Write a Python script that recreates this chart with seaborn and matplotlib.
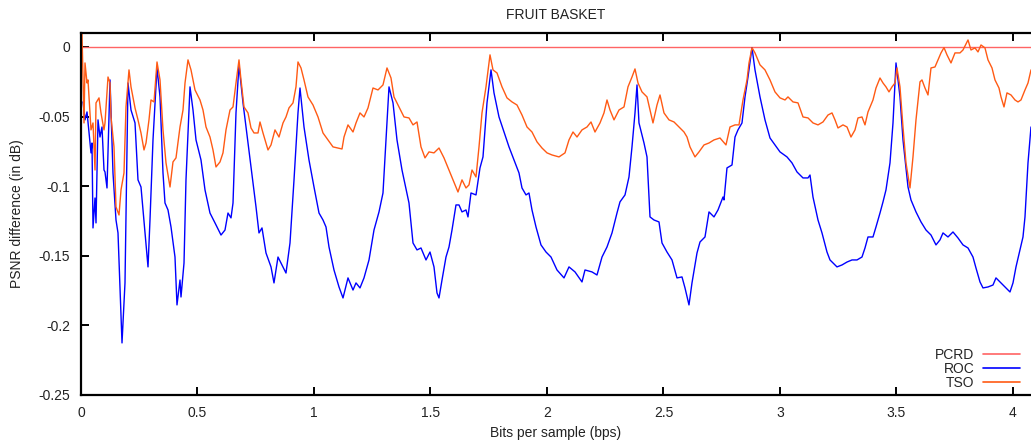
import numpy as np
import pandas as pd
import matplotlib
matplotlib.use("Agg")
import matplotlib.pyplot as plt
import seaborn as sns

# PSNR difference relative to PCRD, per bit rate (bits per sample)
pcrd_bps = [0.008, 4.0773]
pcrd_psnr = [0.0, 0.0]

roc_bps = [
    0.0086, 0.0172, 0.0258, 0.0429, 0.0472, 0.0515, 0.0601, 0.0644, 0.0730, 0.0815,
    0.0901, 0.0987, 0.1030, 0.1116, 0.1245, 0.1373, 0.1502, 0.1588, 0.1760, 0.1888,
    0.2017, 0.2146, 0.2318, 0.2446, 0.2575, 0.2747, 0.2876, 0.2961, 0.3090, 0.3262,
    0.3391, 0.3519, 0.3605, 0.3734, 0.3863, 0.4034, 0.4120, 0.4249, 0.4292, 0.4421,
    0.4506, 0.4678, 0.4807, 0.4936, 0.5150, 0.5322, 0.5536, 0.5751, 0.6009, 0.6180,
    0.6309, 0.6438, 0.6524, 0.6652, 0.6781, 0.6953, 0.7167, 0.7382, 0.7511, 0.7639,
    0.7768, 0.7940, 0.8155, 0.8283, 0.8455, 0.8670, 0.8798, 0.8970, 0.9142, 0.9313,
    0.9399, 0.9571, 0.9785, 1.0000, 1.0215, 1.0386, 1.0515, 1.0644, 1.0858, 1.1073,
    1.1245, 1.1459, 1.1674, 1.1803, 1.1974, 1.2146, 1.2361, 1.2575, 1.2790, 1.2961,
    1.3090, 1.3219, 1.3391, 1.3562, 1.3777, 1.4077, 1.4249, 1.4421, 1.4592, 1.4807,
    1.4979, 1.5150, 1.5279, 1.5365, 1.5494, 1.5665, 1.5794, 1.5923, 1.6094, 1.6223,
    1.6352, 1.6524, 1.6609, 1.6738, 1.6953, 1.7124, 1.7253, 1.7425, 1.7597, 1.7725,
    1.7940, 1.8155, 1.8369, 1.8584, 1.8798, 1.8927, 1.9099, 1.9227, 1.9356, 1.9528,
    1.9742, 1.9957, 2.0172, 2.0429, 2.0730, 2.0944, 2.1202, 2.1502, 2.1631, 2.1931,
    2.2146, 2.2361, 2.2575, 2.2790, 2.3004, 2.3133, 2.3348, 2.3519, 2.3648, 2.3777,
    2.3863, 2.3948, 2.4163, 2.4292, 2.4421, 2.4592, 2.4807, 2.4936, 2.5150, 2.5365,
    2.5579, 2.5794, 2.5923, 2.6094, 2.6223, 2.6438, 2.6567, 2.6781, 2.6953, 2.7167,
    2.7339, 2.7554, 2.7597, 2.7725, 2.7940, 2.8069, 2.8197, 2.8369, 2.8498, 2.8627,
    2.8798, 2.8927, 2.9142, 2.9356, 2.9571, 2.9785, 3.0000, 3.0300, 3.0515, 3.0730,
    3.0987, 3.1202, 3.1288, 3.1416, 3.1631, 3.1803, 3.2017, 3.2146, 3.2446, 3.2661,
    3.2876, 3.3090, 3.3305, 3.3519, 3.3648, 3.3777, 3.3991, 3.4120, 3.4292, 3.4421,
    3.4549, 3.4721, 3.4850, 3.4979, 3.5150, 3.5279, 3.5494, 3.5622, 3.5837, 3.6052,
    3.6266, 3.6481, 3.6695, 3.6867, 3.6996, 3.7210, 3.7425, 3.7639, 3.7854, 3.8069,
    3.8283, 3.8412, 3.8584, 3.8712, 3.8927, 3.9142, 3.9270, 3.9442, 3.9657, 3.9871,
    4.0000, 4.0129, 4.0300, 4.0429, 4.0515, 4.0644, 4.0773,
]
roc_psnr = [
    -0.0395, -0.0524, -0.0467, -0.0761, -0.0690, -0.1300, -0.1085, -0.1264, -0.0524, -0.0647,
    -0.0575, -0.0884, -0.0898, -0.1013, -0.0237, -0.0905, -0.1243, -0.1336, -0.2126, -0.1695,
    -0.0259, -0.0453, -0.0546, -0.0955, -0.1006, -0.1336, -0.1580, -0.1243, -0.0668, -0.0151,
    -0.0359, -0.0905, -0.1121, -0.1171, -0.1293, -0.1509, -0.1853, -0.1674, -0.1796, -0.1552,
    -0.0955, -0.0287, -0.0453, -0.0668, -0.0812, -0.1027, -0.1193, -0.1264, -0.1351, -0.1315,
    -0.1193, -0.1228, -0.1121, -0.0474, -0.0129, -0.0402, -0.0690, -0.0977, -0.1149, -0.1336,
    -0.1300, -0.1480, -0.1580, -0.1695, -0.1509, -0.1580, -0.1624, -0.1408, -0.0955, -0.0474,
    -0.0295, -0.0575, -0.0812, -0.1006, -0.1193, -0.1243, -0.1293, -0.1437, -0.1602, -0.1724,
    -0.1803, -0.1659, -0.1746, -0.1695, -0.1731, -0.1659, -0.1530, -0.1315, -0.1185, -0.1049,
    -0.0668, -0.0287, -0.0402, -0.0668, -0.0884, -0.1121, -0.1408, -0.1458, -0.1444, -0.1530,
    -0.1473, -0.1580, -0.1767, -0.1803, -0.1674, -0.1509, -0.1437, -0.1315, -0.1135, -0.1135,
    -0.1185, -0.1171, -0.1221, -0.1049, -0.1063, -0.0869, -0.0790, -0.0402, -0.0165, -0.0330,
    -0.0503, -0.0611, -0.0718, -0.0812, -0.0905, -0.1013, -0.1063, -0.1049, -0.1171, -0.1293,
    -0.1422, -0.1473, -0.1509, -0.1602, -0.1659, -0.1580, -0.1616, -0.1688, -0.1602, -0.1616,
    -0.1638, -0.1509, -0.1437, -0.1336, -0.1193, -0.1113, -0.1063, -0.0934, -0.0718, -0.0474,
    -0.0273, -0.0546, -0.0690, -0.0790, -0.1221, -0.1243, -0.1257, -0.1408, -0.1473, -0.1530,
    -0.1659, -0.1652, -0.1731, -0.1853, -0.1695, -0.1480, -0.1401, -0.1365, -0.1185, -0.1221,
    -0.1171, -0.1078, -0.1099, -0.0869, -0.0848, -0.0647, -0.0596, -0.0546, -0.0359, -0.0216,
    -0.0005, -0.0165, -0.0359, -0.0524, -0.0654, -0.0704, -0.0754, -0.0790, -0.0833, -0.0898,
    -0.0941, -0.0941, -0.0920, -0.1078, -0.1243, -0.1336, -0.1473, -0.1530, -0.1580, -0.1566,
    -0.1545, -0.1530, -0.1530, -0.1509, -0.1444, -0.1365, -0.1365, -0.1293, -0.1193, -0.1113,
    -0.1027, -0.0833, -0.0546, -0.0115, -0.0359, -0.0668, -0.1006, -0.1099, -0.1185, -0.1257,
    -0.1315, -0.1351, -0.1422, -0.1386, -0.1336, -0.1365, -0.1329, -0.1372, -0.1422, -0.1444,
    -0.1509, -0.1588, -0.1688, -0.1731, -0.1724, -0.1710, -0.1659, -0.1688, -0.1724, -0.1760,
    -0.1695, -0.1580, -0.1458, -0.1365, -0.1221, -0.0833, -0.0575,
]

tso_bps = [
    0.0043, 0.0129, 0.0172, 0.0258, 0.0300, 0.0386, 0.0429, 0.0515, 0.0601, 0.0644,
    0.0773, 0.0858, 0.0987, 0.1030, 0.1159, 0.1245, 0.1288, 0.1416, 0.1502, 0.1631,
    0.1717, 0.1845, 0.1931, 0.2060, 0.2146, 0.2318, 0.2446, 0.2575, 0.2704, 0.2790,
    0.2918, 0.3004, 0.3133, 0.3262, 0.3391, 0.3519, 0.3648, 0.3820, 0.3948, 0.4077,
    0.4249, 0.4378, 0.4464, 0.4592, 0.4721, 0.4893, 0.5107, 0.5236, 0.5365, 0.5536,
    0.5665, 0.5794, 0.5966, 0.6094, 0.6223, 0.6395, 0.6524, 0.6652, 0.6781, 0.6867,
    0.6996, 0.7167, 0.7296, 0.7425, 0.7597, 0.7682, 0.7811, 0.8026, 0.8155, 0.8326,
    0.8498, 0.8670, 0.8798, 0.8927, 0.9099, 0.9227, 0.9313, 0.9442, 0.9571, 0.9742,
    0.9957, 1.0172, 1.0386, 1.0601, 1.0815, 1.1030, 1.1202, 1.1288, 1.1459, 1.1674,
    1.1803, 1.1974, 1.2146, 1.2318, 1.2532, 1.2747, 1.2961, 1.3133, 1.3305, 1.3433,
    1.3648, 1.3863, 1.4077, 1.4249, 1.4421, 1.4592, 1.4764, 1.4936, 1.5150, 1.5365,
    1.5579, 1.5794, 1.6009, 1.6180, 1.6352, 1.6524, 1.6652, 1.6781, 1.6953, 1.7082,
    1.7210, 1.7382, 1.7554, 1.7682, 1.7854, 1.8069, 1.8283, 1.8498, 1.8712, 1.8927,
    1.9142, 1.9356, 1.9571, 1.9785, 2.0000, 2.0215, 2.0515, 2.0773, 2.0944, 2.1116,
    2.1288, 2.1502, 2.1717, 2.1888, 2.2060, 2.2275, 2.2446, 2.2575, 2.2704, 2.2876,
    2.3090, 2.3305, 2.3476, 2.3648, 2.3777, 2.3906, 2.4077, 2.4292, 2.4421, 2.4549,
    2.4721, 2.4850, 2.5021, 2.5236, 2.5451, 2.5665, 2.5880, 2.6009, 2.6137, 2.6352,
    2.6524, 2.6738, 2.6953, 2.7167, 2.7425, 2.7682, 2.7854, 2.8069, 2.8240, 2.8412,
    2.8584, 2.8670, 2.8798, 2.8927, 2.9142, 2.9356, 2.9571, 2.9785, 3.0000, 3.0215,
    3.0343, 3.0558, 3.0773, 3.0987, 3.1202, 3.1416, 3.1631, 3.1845, 3.2060, 3.2232,
    3.2361, 3.2489, 3.2704, 3.2876, 3.3047, 3.3219, 3.3348, 3.3519, 3.3648, 3.3777,
    3.3991, 3.4120, 3.4292, 3.4421, 3.4549, 3.4678, 3.4807, 3.4936, 3.5021, 3.5150,
    3.5279, 3.5408, 3.5579, 3.5708, 3.5837, 3.6009, 3.6094, 3.6223, 3.6352, 3.6481,
    3.6652, 3.6781, 3.6910, 3.7039, 3.7167, 3.7339, 3.7511, 3.7725, 3.7854, 3.8069,
    3.8197, 3.8369, 3.8498, 3.8627, 3.8798, 3.8927, 3.9099, 3.9227, 3.9399, 3.9485,
    3.9614, 3.9742, 3.9914, 4.0086, 4.0215, 4.0343, 4.0515, 4.0644, 4.0773,
]
tso_psnr = [
    0.0100, -0.0546, -0.0115, -0.0259, -0.0237, -0.0474, -0.0596, -0.0546, -0.0884, -0.0402,
    -0.0366, -0.0474, -0.0596, -0.0546, -0.0216, -0.0259, -0.0503, -0.0718, -0.1149, -0.1207,
    -0.1027, -0.0905, -0.0431, -0.0165, -0.0287, -0.0438, -0.0524, -0.0618, -0.0740, -0.0690,
    -0.0524, -0.0381, -0.0395, -0.0108, -0.0237, -0.0596, -0.0833, -0.1006, -0.0826, -0.0797,
    -0.0575, -0.0453, -0.0259, -0.0093, -0.0165, -0.0309, -0.0381, -0.0453, -0.0575, -0.0647,
    -0.0740, -0.0862, -0.0826, -0.0761, -0.0596, -0.0453, -0.0431, -0.0259, -0.0093, -0.0237,
    -0.0431, -0.0474, -0.0582, -0.0618, -0.0618, -0.0539, -0.0618, -0.0740, -0.0704, -0.0596,
    -0.0647, -0.0546, -0.0503, -0.0438, -0.0402, -0.0287, -0.0108, -0.0151, -0.0237, -0.0359,
    -0.0417, -0.0503, -0.0618, -0.0668, -0.0718, -0.0726, -0.0733, -0.0647, -0.0560, -0.0611,
    -0.0546, -0.0474, -0.0503, -0.0438, -0.0295, -0.0309, -0.0273, -0.0151, -0.0223, -0.0359,
    -0.0431, -0.0503, -0.0510, -0.0560, -0.0539, -0.0718, -0.0797, -0.0754, -0.0761, -0.0726,
    -0.0797, -0.0884, -0.0970, -0.1042, -0.0955, -0.1013, -0.0991, -0.0884, -0.0934, -0.0718,
    -0.0474, -0.0287, -0.0057, -0.0165, -0.0187, -0.0287, -0.0366, -0.0395, -0.0417, -0.0489,
    -0.0575, -0.0611, -0.0682, -0.0726, -0.0761, -0.0776, -0.0790, -0.0761, -0.0668, -0.0611,
    -0.0647, -0.0596, -0.0575, -0.0539, -0.0611, -0.0546, -0.0474, -0.0381, -0.0453, -0.0524,
    -0.0453, -0.0431, -0.0287, -0.0216, -0.0158, -0.0259, -0.0323, -0.0359, -0.0453, -0.0546,
    -0.0417, -0.0345, -0.0474, -0.0524, -0.0539, -0.0575, -0.0611, -0.0647, -0.0718, -0.0790,
    -0.0754, -0.0704, -0.0690, -0.0668, -0.0654, -0.0704, -0.0575, -0.0560, -0.0560, -0.0381,
    -0.0237, -0.0115, -0.0005, -0.0043, -0.0129, -0.0165, -0.0237, -0.0323, -0.0366, -0.0381,
    -0.0359, -0.0395, -0.0402, -0.0503, -0.0510, -0.0546, -0.0560, -0.0539, -0.0489, -0.0474,
    -0.0524, -0.0582, -0.0560, -0.0575, -0.0647, -0.0596, -0.0510, -0.0503, -0.0560, -0.0467,
    -0.0381, -0.0295, -0.0223, -0.0259, -0.0287, -0.0323, -0.0287, -0.0259, -0.0151, -0.0287,
    -0.0575, -0.0833, -0.1013, -0.0790, -0.0524, -0.0251, -0.0237, -0.0295, -0.0345, -0.0151,
    -0.0144, -0.0093, -0.0043, -0.0005, -0.0057, -0.0115, -0.0043, -0.0043, -0.0022, 0.0050,
    -0.0022, -0.0007, -0.0036, 0.0014, -0.0007, -0.0093, -0.0151, -0.0237, -0.0295, -0.0359,
    -0.0431, -0.0330, -0.0345, -0.0381, -0.0395, -0.0381, -0.0309, -0.0259, -0.0165,
]

methods = ["PCRD", "ROC", "TSO"]
colors = {"PCRD": "#ff6464", "ROC": "#0000ff", "TSO": "#ff5a14"}

frames = []
for name, xs, ys in [("PCRD", pcrd_bps, pcrd_psnr),
                     ("ROC", roc_bps, roc_psnr),
                     ("TSO", tso_bps, tso_psnr)]:
    frames.append(pd.DataFrame({"bps": xs, "psnr": ys, "method": name}))
df = pd.concat(frames, ignore_index=True)

sns.set_style("ticks")
plt.rcParams["font.family"] = ["Liberation Sans", "DejaVu Sans"]

fig = plt.figure(figsize=(10.31, 4.42), dpi=100)
ax = fig.add_axes([81 / 1031, 47 / 442, 1 - 81 / 1031, (395 - 33) / 442])

sns.lineplot(data=df, x="bps", y="psnr", hue="method", hue_order=methods,
             palette=colors, estimator=None, sort=False, linewidth=1.0, ax=ax)

ax.set_xlim(0, 4.0773)
ax.set_ylim(-0.25, 0.01)
ax.set_xticks([0, 0.5, 1, 1.5, 2, 2.5, 3, 3.5, 4])
ax.set_xticklabels(["0", "0.5", "1", "1.5", "2", "2.5", "3", "3.5", "4"])
ax.set_yticks([0, -0.05, -0.1, -0.15, -0.2, -0.25])
ax.set_yticklabels(["0", "-0.05", "-0.1", "-0.15", "-0.2", "-0.25"])

for side in ["left", "bottom", "top"]:
    ax.spines[side].set_linewidth(1.6)
    ax.spines[side].set_color("black")
ax.spines["right"].set_visible(False)
ax.tick_params(axis="both", direction="in", length=6, width=1.4,
               labelsize=10, colors="black", labelcolor="#222222", pad=8)
ax.tick_params(axis="x", top=True, bottom=True)

ax.set_title("FRUIT BASKET", fontsize=10, color="#222222", pad=10)
ax.set_xlabel("Bits per sample (bps)", fontsize=10, color="#222222", labelpad=4)
ax.set_ylabel("PSNR difference (in dB)", fontsize=10, color="#222222", labelpad=10)

leg = ax.legend(loc="lower right", frameon=False, markerfirst=False,
                fontsize=10, handlelength=2.7, handletextpad=0.6,
                labelspacing=0.02, borderaxespad=0.0, borderpad=0.35,
                bbox_to_anchor=(1.0 - 6 / 950, 0.0))
for line in leg.get_lines():
    line.set_linewidth(1.2)

fig.savefig("out.png", dpi=100)
